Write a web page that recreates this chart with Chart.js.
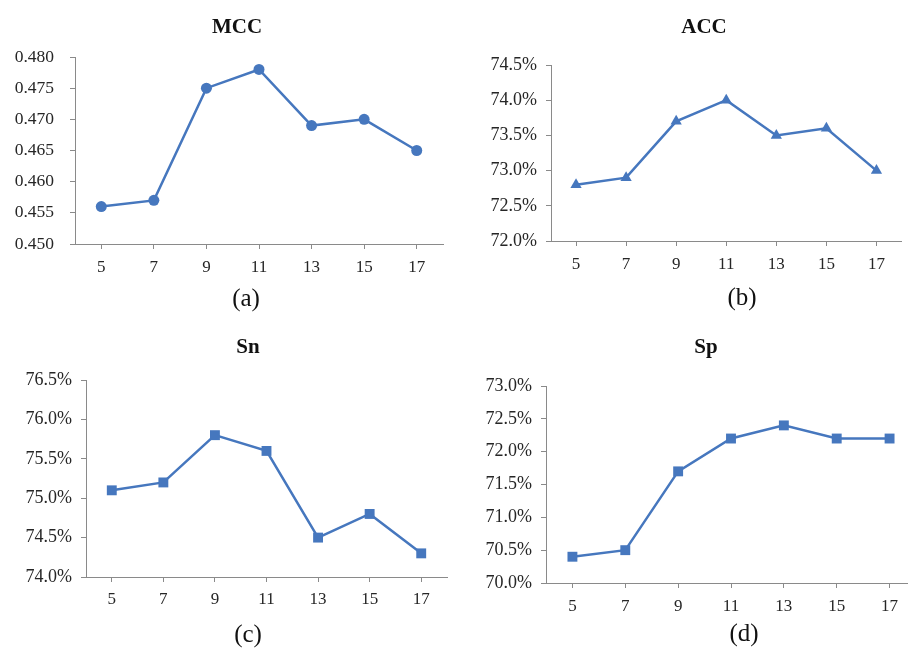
<!DOCTYPE html>
<html>
<head>
<meta charset="utf-8">
<script src="https://cdn.jsdelivr.net/npm/chart.js@4.4.1/dist/chart.umd.min.js"></script>
<style>
  html, body { margin:0; padding:0; background:#fff; width:908px; height:650px; overflow:hidden; position:relative; }
  canvas { position:absolute; }
  .t { position:absolute; transform:translate(-50%,-50%); font-family:"Liberation Serif","Times New Roman",serif; color:#111; white-space:nowrap; }
  .title { font-size:21px; font-weight:bold; }
  .cap { font-size:25px; }
</style>
</head>
<body>
<canvas id="ca"></canvas>
<canvas id="cb"></canvas>
<canvas id="cc"></canvas>
<canvas id="cd"></canvas>
<div class="t title" style="left:237px;top:26px;">MCC</div>
<div class="t title" style="left:704px;top:26px;">ACC</div>
<div class="t title" style="left:248px;top:346px;">Sn</div>
<div class="t title" style="left:706px;top:346px;">Sp</div>
<div class="t cap" style="left:246px;top:298px;">(a)</div>
<div class="t cap" style="left:742px;top:297px;">(b)</div>
<div class="t cap" style="left:248px;top:634px;">(c)</div>
<div class="t cap" style="left:744px;top:633px;">(d)</div>
<script>
const windowSizes = ["5", "7", "9", "11", "13", "15", "17"];
const mccValues = [0.456, 0.457, 0.475, 0.478, 0.469, 0.470, 0.465];
const accValues = [72.8, 72.9, 73.7, 74.0, 73.5, 73.6, 73.0];
const snValues  = [75.1, 75.2, 75.8, 75.6, 74.5, 74.8, 74.3];
const spValues  = [70.4, 70.5, 71.7, 72.2, 72.4, 72.2, 72.2];

const LINE = '#4677BE';
const AXIS = '#8a8a8a';
const FONT = '"Liberation Serif","Times New Roman",serif';

function makeChart(id, box, area, data, marker, yMin, yMax, yStep, fmt, yFont, yPad, xPad) {
  const cv = document.getElementById(id);
  cv.style.left = box.x + 'px';
  cv.style.top = box.y + 'px';
  cv.style.width = box.w + 'px';
  cv.style.height = box.h + 'px';
  cv.width = box.w; cv.height = box.h;
  const left = area.l - box.x, top = area.t - box.y, right = area.r - box.x, bottom = area.b - box.y;
  return new Chart(cv, {
    type: 'line',
    data: {
      labels: windowSizes,
      datasets: [{
        data: data,
        borderColor: LINE,
        backgroundColor: LINE,
        borderWidth: 2.5,
        pointStyle: marker.style,
        pointRadius: marker.r,
        pointBorderWidth: 0,
        pointBackgroundColor: LINE,
        tension: 0,
        fill: false
      }]
    },
    options: {
      responsive: false,
      animation: false,
      devicePixelRatio: 1,
      layout: { padding: { left: 0, top: top, right: box.w - right, bottom: 0 } },
      plugins: { legend: { display: false }, tooltip: { enabled: false }, title: { display: false } },
      scales: {
        x: {
          type: 'category',
          offset: true,
          afterFit: (s) => { s.height = box.h - bottom; },
          border: { display: true, color: AXIS, width: 1 },
          grid: { display: true, drawOnChartArea: false, drawTicks: true, tickLength: 5, color: AXIS, offset: false },
          ticks: { color: '#262626', font: { family: FONT, size: 17 }, padding: xPad, maxRotation: 0, autoSkip: false }
        },
        y: {
          min: yMin, max: yMax,
          afterFit: (s) => { s.width = left; },
          border: { display: true, color: AXIS, width: 1 },
          grid: { display: true, drawOnChartArea: false, drawTicks: true, tickLength: 5, color: AXIS },
          ticks: { stepSize: yStep, color: '#262626', font: { family: FONT, size: yFont }, padding: yPad, callback: fmt }
        }
      }
    }
  });
}

const fmt3 = v => v.toFixed(3);
const fmtPct = v => v.toFixed(1) + '%';

makeChart('ca', {x:0, y:0, w:454, h:310}, {l:75, t:57, r:443, b:244}, mccValues, {style:'circle', r:5.5}, 0.450, 0.480, 0.005, fmt3, 17.5, 16, 8);
makeChart('cb', {x:454, y:0, w:454, h:310}, {l:551, t:65, r:907, b:241}, accValues, {style:'triangle', r:6.5}, 72.0, 74.5, 0.5, fmtPct, 18, 9, 8);
makeChart('cc', {x:0, y:320, w:454, h:320}, {l:86, t:380, r:448, b:577}, snValues, {style:'rect', r:7}, 74.0, 76.5, 0.5, fmtPct, 18, 9, 7);
makeChart('cd', {x:454, y:320, w:470, h:320}, {l:546, t:386, r:916, b:583}, spValues, {style:'rect', r:7}, 70.0, 73.0, 0.5, fmtPct, 18, 9, 8);
</script>
</body>
</html>
